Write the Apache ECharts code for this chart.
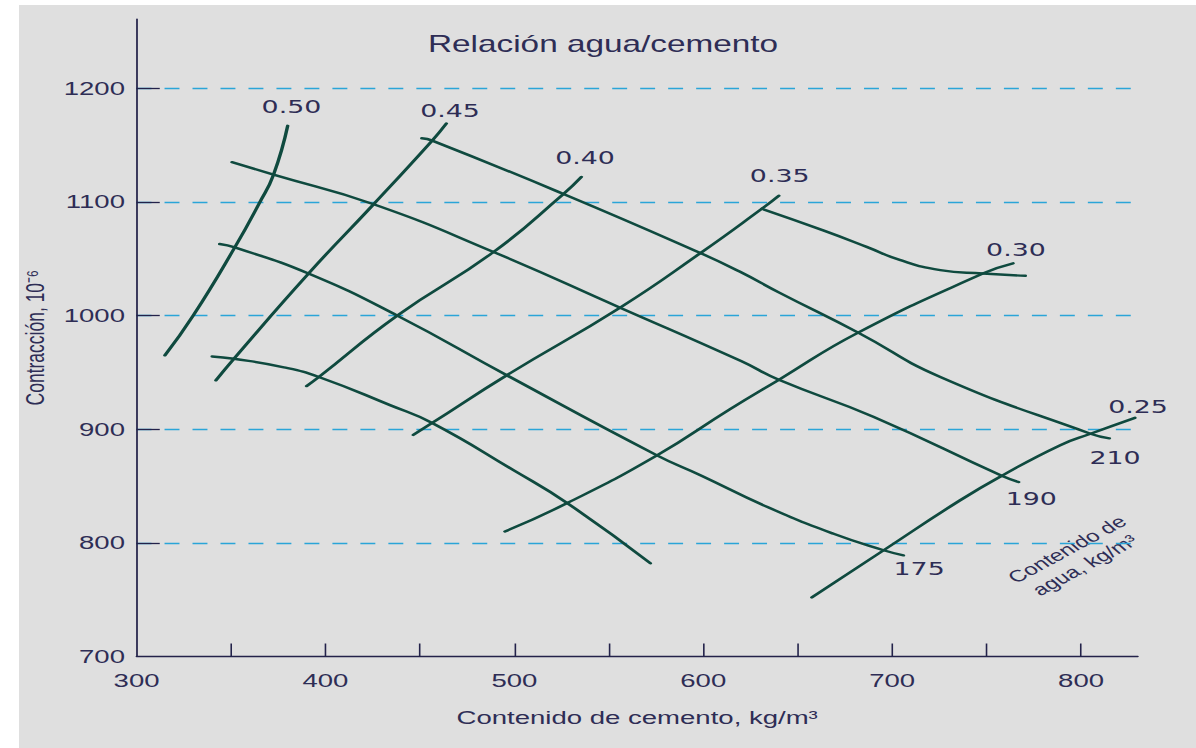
<!DOCTYPE html>
<html lang="es">
<head>
<meta charset="utf-8">
<title>Contracción según contenido de cemento</title>
<script src="https://cdn.jsdelivr.net/npm/echarts@6/dist/echarts.min.js"></script>
<style>
  html, body { margin: 0; padding: 0; width: 1196px; height: 748px; overflow: hidden; background: #ffffff; }
  #panel { position: absolute; left: 19px; top: 5px; right: 0; bottom: 0; background: #dfdfdf; }
  /* The figure is laid out on a narrower sheet and widened horizontally as a whole */
  #chart { position: absolute; left: 0; top: 0; width: 825px; height: 748px;
           transform: scaleX(1.44970); transform-origin: 0 0; }
</style>
</head>
<body>
<div id="panel"></div>
<div id="chart"></div>
<script>
// Drying shrinkage (10^-6) against cement content (kg/m3)

// Axis ticks and labels
const xTickValues = [350, 400, 450, 500, 550, 600, 650, 700, 750, 800];
const xLabelValues = [300, 400, 500, 600, 700, 800];
const yLabelValues = [700, 800, 900, 1000, 1100, 1200];
const yGridValues = [800, 900, 1000, 1100, 1200];

// Water/cement ratio curves: [cement kg/m3, shrinkage 10^-6]
const relacion050 = [[315, 965], [330, 1000], [352, 1060], [365, 1099], [372.5, 1124], [380, 1167]];
const relacion045 = [[342, 943], [351.5, 962], [391, 1037], [425.5, 1098], [456.5, 1154], [464, 1169]];
const relacion040 = [[390, 938], [396.5, 946], [438, 1000], [489, 1056], [526, 1107], [535.5, 1122]];
const relacion035 = [[446.5, 895], [456.5, 905.5], [496, 947.5], [556, 1007], [598.5, 1055], [631, 1094], [640, 1105.5]];
const relacion030 = [[495, 810], [528, 835], [575.5, 877], [614, 917.5], [640, 943.5], [682, 985], [748, 1037], [764, 1046]];
const relacion025 = [[657.5, 752], [695.5, 793.5], [736, 837.5], [758, 859], [789, 886], [805, 896], [828.5, 910]];

// Water content curves: [cement kg/m3, shrinkage 10^-6]
const aguaSuperior = [[631, 1094], [663.5, 1075], [686.5, 1060.5], [704, 1049], [725.5, 1040], [748, 1037], [770.5, 1035]];
const agua210 = [[451, 1156], [456.5, 1154], [526, 1107], [598.5, 1055], [619.5, 1038.5], [640.5, 1020], [682, 985], [725.5, 946], [805, 896], [815, 892]];
const agua190 = [[350.5, 1135], [372.5, 1124], [425.5, 1098], [489, 1056], [556, 1007], [620, 960], [640, 943.5], [690, 911], [758, 859], [767, 853.5]];
const agua175 = [[344, 1063], [352, 1060], [391, 1037], [438, 1000], [496, 947.5], [575.5, 877], [598.5, 859.5], [634, 831.5], [669, 808], [695.5, 793.5], [706, 789]];
const aguaInferior = [[340, 964], [351.5, 962], [378, 954.5], [396.5, 946], [434.5, 921], [456.5, 905.5], [499.5, 864], [528, 835], [572, 782]];

const INK = '#0f4a3f';
const TEXT = '#2e2d55';
const AXIS = '#23224a';
const GRID = '#2aa5d8';
const SANS = '"Liberation Sans", Arial, sans-serif';
const WIDE = '"DejaVu Sans", "Liberation Sans", sans-serif';

// Curves; labelled ones carry the offset of their tag from the curve's end
const curves = [
  { name: '0.50', data: relacion050, tag: [2.6, -19] },
  { name: '0.45', data: relacion045, tag: [2.5, -13] },
  { name: '0.40', data: relacion040, tag: [2.5, -19] },
  { name: '0.35', data: relacion035, tag: [0.6, -20] },
  { name: '0.30', data: relacion030, tag: [2, -14] },
  { name: '0.25', data: relacion025, tag: [2.2, -11] },
  { name: '210', data: agua210, tag: [3.9, 19] },
  { name: '190', data: agua190, tag: [8.7, 17] },
  { name: '175', data: agua175, tag: [10.8, 13] },
  { name: 'aguaSuperior', data: aguaSuperior },
  { name: 'aguaInferior', data: aguaInferior }
];

const series = curves.map(c => {
  const s = {
    type: 'line',
    name: c.name,
    data: c.data,
    smooth: 0.5,
    symbol: 'none',
    silent: true,
    lineStyle: { color: INK, width: 2.4, cap: 'round' },
    z: 3
  };
  if (c.tag) {
    s.markPoint = {
      silent: true,
      symbol: 'circle',
      symbolSize: 1,
      itemStyle: { color: 'rgba(0,0,0,0)' },
      label: {
        show: true,
        formatter: '{b}',
        offset: c.tag,
        color: TEXT,
        fontSize: 18.5,
        fontFamily: WIDE
      },
      data: [{ name: c.name, coord: c.data[c.data.length - 1] }]
    };
  }
  return s;
});

const chart = echarts.init(document.getElementById('chart'), null, { renderer: 'svg' });
chart.setOption({
  animation: false,
  backgroundColor: 'transparent',
  title: {
    text: 'Relación agua/cemento',
    left: 411,
    top: 27,
    textAlign: 'center',
    textStyle: { color: TEXT, fontSize: 23, fontWeight: 'normal', fontFamily: SANS }
  },
  grid: { left: 94.2, right: 40.2, top: 19, bottom: 91.5, containLabel: false },
  xAxis: {
    type: 'value',
    min: 300,
    max: 830,
    interval: 50,
    name: 'Contenido de cemento, kg/m³',
    nameLocation: 'middle',
    nameGap: 52,
    nameTextStyle: { color: TEXT, fontSize: 19, fontFamily: SANS },
    axisLine: { show: true, lineStyle: { color: AXIS, width: 1.4 } },
    axisTick: { show: true, inside: true, length: 13, customValues: xTickValues, lineStyle: { color: AXIS, width: 1.1 } },
    axisLabel: { customValues: xLabelValues, margin: 15, color: TEXT, fontSize: 19, fontFamily: SANS, formatter: v => String(v) },
    splitLine: { show: false }
  },
  yAxis: {
    type: 'value',
    min: 700,
    max: 1261,
    interval: 100,
    name: 'Contracción, 10⁻⁶',
    nameLocation: 'middle',
    nameRotate: 90,
    nameGap: 53,
    nameTextStyle: { color: TEXT, fontSize: 17.5, fontFamily: SANS },
    axisLine: { show: true, lineStyle: { color: AXIS, width: 1.2 } },
    axisTick: { show: true, inside: true, length: 16, customValues: yGridValues, lineStyle: { color: AXIS, width: 1.3 } },
    axisLabel: { customValues: yLabelValues, margin: 8, color: TEXT, fontSize: 19, fontFamily: SANS, formatter: v => String(v) },
    splitLine: { show: true, lineStyle: { color: GRID, width: 1.3, type: [10.3, 9] } }
  },
  graphic: [{
    type: 'text',
    x: 742,
    y: 557,
    rotation: 38 * Math.PI / 180,
    silent: true,
    style: {
      text: 'Contenido de\nagua, kg/m³',
      fontSize: 16.5,
      fontFamily: SANS,
      fill: TEXT,
      align: 'center',
      verticalAlign: 'middle',
      lineHeight: 20
    }
  }],
  series: series
});
</script>
</body>
</html>
